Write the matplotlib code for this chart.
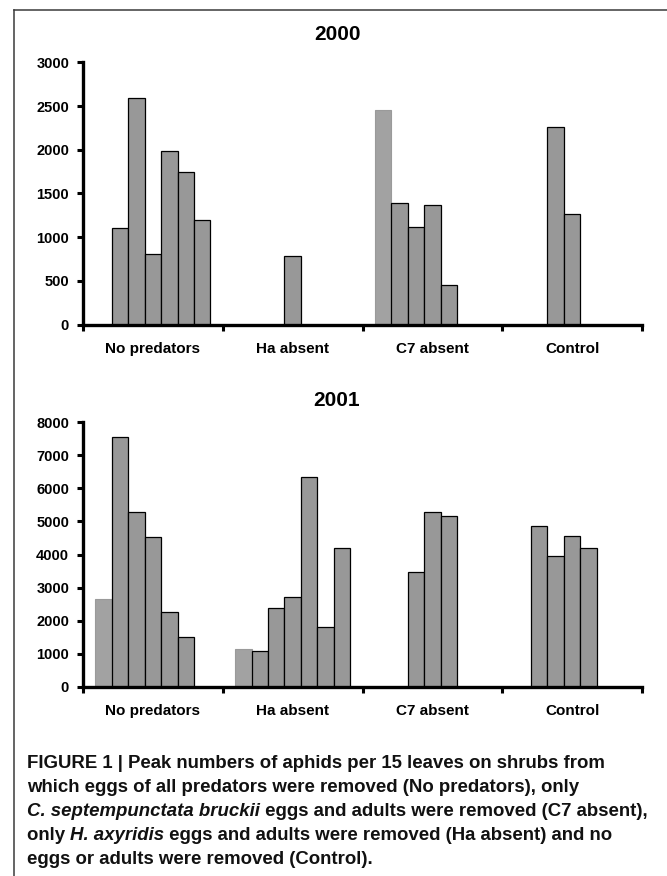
import numpy as np
import matplotlib
matplotlib.use("Agg")
import matplotlib.pyplot as plt
from matplotlib.lines import Line2D

plt.rcParams['font.family'] = ['Liberation Sans', 'DejaVu Sans']

# ---------------- data ----------------
groups = ["No predators", "Ha absent", "C7 absent", "Control"]
nan = np.nan
# seven replicate slots per treatment group
y2000_no_predators = [nan, 1100, 2590, 810, 1990, 1750, 1200]
y2000_ha_absent = [nan, nan, nan, 780, nan, nan, nan]
y2000_c7_absent = [2450, 1390, 1120, 1370, 450, nan, nan]
y2000_control = [nan, nan, 2260, 1260, nan, nan, nan]

y2001_no_predators = [2650, 7550, 5300, 4520, 2250, 1500, nan]
y2001_ha_absent = [1150, 1080, 2390, 2700, 6350, 1820, 4200]
y2001_c7_absent = [nan, nan, 3470, 5300, 5150, nan, nan]
y2001_control = [nan, 4850, 3950, 4560, 4200, nan, nan]

yticks2000 = [0, 500, 1000, 1500, 2000, 2500, 3000]
yticks2001 = [0, 1000, 2000, 3000, 4000, 5000, 6000, 7000, 8000]

W, H = 667, 876
fig = plt.figure(figsize=(W / 100, H / 100), dpi=100)

def fx(px):
    return px / W

def fy(py):
    return 1 - py / H

# frame
fig.add_artist(Line2D([fx(14), fx(14)], [fy(9.5), 0], color='#3a3a3a', lw=1.1))
fig.add_artist(Line2D([fx(14), 1], [fy(9.5), fy(9.5)], color='#3a3a3a', lw=1.1))

nslots = 7
w = 1.0 / (nslots + 1.5)

def draw_panel(rect, data, yticks, ymax, title, title_y):
    ax = fig.add_axes(rect)
    for gi, vals in enumerate(data):
        for j, v in enumerate(vals):
            if np.isnan(v):
                continue
            x = gi + (j - (nslots - 1) / 2) * w
            if j == 0:
                ax.bar(x, v, width=w, color='#a2a2a2', edgecolor='#9a9a9a', lw=0.8, zorder=2)
            else:
                ax.bar(x, v, width=w, color='#989898', edgecolor='black', lw=0.9, zorder=2)
    ax.set_xlim(-0.5, len(groups) - 0.5)
    ax.set_ylim(0, ymax)
    for s in ['top', 'right']:
        ax.spines[s].set_visible(False)
    for s in ['left', 'bottom']:
        ax.spines[s].set_linewidth(2.4)
        ax.spines[s].set_zorder(3)
    ax.set_yticks(yticks)
    ax.set_yticklabels([str(t) for t in yticks], fontsize=10.5, fontweight='bold')
    ax.tick_params(axis='y', direction='out', length=4, width=2.2, pad=6)
    ax.set_xticks(np.arange(-0.5, len(groups), 1.0))
    ax.set_xticklabels([])
    ax.tick_params(axis='x', which='major', direction='out', length=4, width=2.2)
    ax.set_xticks(np.arange(len(groups)), minor=True)
    ax.set_xticklabels(groups, minor=True, fontsize=11, fontweight='bold')
    ax.tick_params(axis='x', which='minor', length=0, pad=12.5)
    ax.patch.set_visible(False)
    fig.text(fx(337), fy(title_y), title, ha='center', va='center',
             fontsize=15, fontweight='bold')
    return ax

draw_panel([fx(83), fy(324.5), fx(642) - fx(83), fy(62.3) - fy(324.5)],
           [y2000_no_predators, y2000_ha_absent, y2000_c7_absent, y2000_control],
           yticks2000, 3000, "2000", 34.3)
draw_panel([fx(83), fy(686.7), fx(642) - fx(83), fy(422.3) - fy(686.7)],
           [y2001_no_predators, y2001_ha_absent, y2001_c7_absent, y2001_control],
           yticks2001, 8000, "2001", 400.7)

# caption with mixed bold / bold-italic runs
caption_lines = [
    [("FIGURE 1 | Peak numbers of aphids per 15 leaves on shrubs from", 'normal')],
    [("which eggs of all predators were removed (No predators), only", 'normal')],
    [("C. septempunctata bruckii", 'italic'), (" eggs and adults were removed (C7 absent),", 'normal')],
    [("only ", 'normal'), ("H. axyridis", 'italic'), (" eggs and adults were removed (Ha absent) and no", 'normal')],
    [("eggs or adults were removed (Control).", 'normal')],
]
renderer = fig.canvas.get_renderer()
x0 = 27
y0 = 763
dy = 24.2
for i, runs in enumerate(caption_lines):
    xpix = x0
    for txt, style in runs:
        t = fig.text(fx(xpix), fy(y0 + i * dy), txt, ha='left', va='center',
                     fontsize=13.4, fontweight='bold', fontstyle=style, color='#111111')
        bb = t.get_window_extent(renderer=renderer)
        xpix += bb.width

fig.savefig("out.png", dpi=100)
